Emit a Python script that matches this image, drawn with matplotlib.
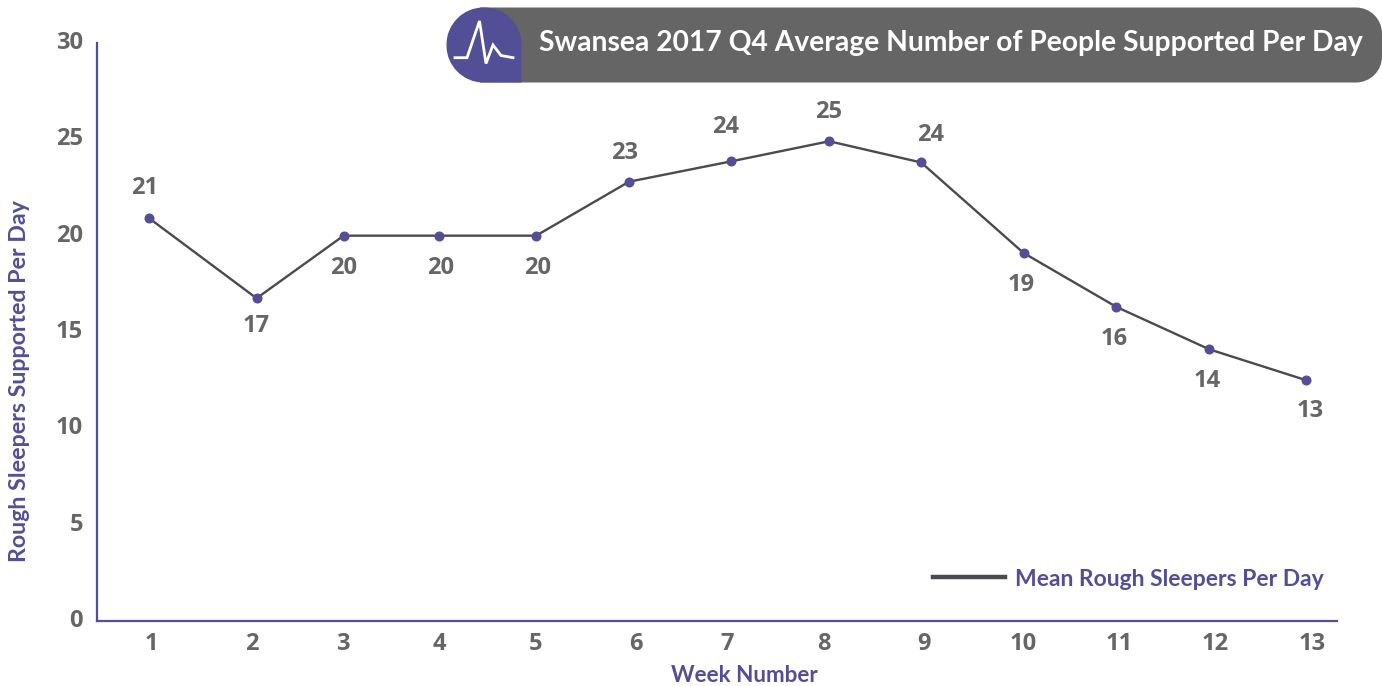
import matplotlib
matplotlib.use('Agg')
import matplotlib.pyplot as plt
from matplotlib.lines import Line2D
from matplotlib.patches import PathPatch
from matplotlib.path import Path
from matplotlib.transforms import ScaledTranslation

# the source chart has slightly uneven week spacing, so x is read in fractional weeks
week_x = [0.98, 2.09, 2.99, 3.98, 4.98, 5.94, 6.99, 8.01, 8.96, 10.02, 10.98, 11.94, 12.94]
mean_sleepers = [20.9, 16.75, 20.0, 20.0, 20.0, 22.8, 23.85, 24.9, 23.8, 19.1, 16.3, 14.1, 12.5]
point_labels = ['21', '17', '20', '20', '20', '23', '24', '25', '24', '19', '16', '14', '13']

week_ticks = [1.0, 2.04, 2.98, 3.98, 4.97, 6.01, 6.95, 7.95, 8.99, 10.02, 11.01, 12.0, 13.0]
week_labels = [str(i) for i in range(1, 14)]
y_ticks = [0, 5, 10, 15, 20, 25, 30]

# label offsets from each point, in pixels
label_dx = [-5, 0, 0, 1, 1, -4, -5, -1, 9, -2, -2, -2, 4]
label_dy = [30, -28, -32, -32, -32, 29, 34, 29, 27, -32, -32, -32, -31]

PURPLE = '#534f96'
GREY = '#666666'
DARK = '#4a4a4f'
FONT = 'Lato'
NUM_FONT = 'Open Sans'
NUM_SIZE = 17

W, H = 1382, 686
fig = plt.figure(figsize=(W / 100, H / 100), dpi=100)
ax = fig.add_axes([97 / W, 1 - 621 / H, (1337 - 97) / W, (621 - 43) / H])

ax.plot(week_x, mean_sleepers, color=DARK, lw=1.7, zorder=2)
ax.plot(week_x, mean_sleepers, ls='none', marker='o', ms=6.2, color=PURPLE, zorder=3)

for x, y, lab, dx, dy in zip(week_x, mean_sleepers, point_labels, label_dx, label_dy):
    ax.annotate(lab, (x, y), xytext=(dx * 0.72, dy * 0.72), textcoords='offset points',
                ha='center', va='center', fontsize=NUM_SIZE, fontweight='bold',
                color=GREY, family=NUM_FONT)

ax.set_xlim(0.44, 13.26)
ax.set_ylim(0, 30)
ax.set_xticks(week_ticks)
ax.set_xticklabels(week_labels, fontsize=NUM_SIZE, fontweight='bold', color=GREY, family=NUM_FONT)
ax.set_yticks(y_ticks)
ax.set_yticklabels(y_ticks, fontsize=NUM_SIZE, fontweight='bold', color=GREY, family=NUM_FONT)
ax.tick_params(axis='both', length=0)
ax.tick_params(axis='x', pad=8)
ax.tick_params(axis='y', pad=10)
shift = ScaledTranslation(0, 3 / 100, fig.dpi_scale_trans)
for t in ax.get_yticklabels():
    t.set_transform(t.get_transform() + shift)

for side in ['top', 'right']:
    ax.spines[side].set_visible(False)
for side in ['left', 'bottom']:
    ax.spines[side].set_color(PURPLE)
    ax.spines[side].set_linewidth(1.6)

fig.text(744 / W, 1 - 676 / H, 'Week Number', color=PURPLE, fontsize=16.2, fontweight='bold',
         family=FONT, ha='center', va='center')
fig.text(20 / W, 1 - 381 / H, 'Rough Sleepers Supported Per Day', color=PURPLE, fontsize=16.7,
         fontweight='bold', family=FONT, rotation=90, ha='center', va='center')

handle = Line2D([], [], color=DARK, lw=3.2)
ax.legend([handle], ['Mean Rough Sleepers Per Day'], loc='center right',
          bbox_to_anchor=((1324 - 97) / (1337 - 97), (621 - 579) / (621 - 43)), frameon=False,
          prop={'family': FONT, 'size': 16.5, 'weight': 'bold'}, labelcolor=PURPLE,
          handlelength=3.14, handletextpad=0.44, borderpad=0, borderaxespad=0)

# title banner, drawn on a pixel-sized overlay
ov = fig.add_axes([0, 0, 1, 1], zorder=5)
ov.set_xlim(0, W)
ov.set_ylim(H, 0)
ov.axis('off')

MV, L4, C4, CP = Path.MOVETO, Path.LINETO, Path.CURVE4, Path.CLOSEPOLY
k = 0.552
def rounded(x0, y0, x1, y1, rtl, rtr, rbr, rbl):
    # rectangle with its own radius on each corner
    verts = [(x0 + rtl, y0), (x1 - rtr, y0),
             (x1 - rtr + k * rtr, y0), (x1, y0 + rtr - k * rtr), (x1, y0 + rtr),
             (x1, y1 - rbr),
             (x1, y1 - rbr + k * rbr), (x1 - rbr + k * rbr, y1), (x1 - rbr, y1),
             (x0 + rbl, y1),
             (x0 + rbl - k * rbl, y1), (x0, y1 - rbl + k * rbl), (x0, y1 - rbl),
             (x0, y0 + rtl),
             (x0, y0 + rtl - k * rtl), (x0 + rtl - k * rtl, y0), (x0 + rtl, y0),
             (x0 + rtl, y0)]
    codes = [MV, L4, C4, C4, C4, L4, C4, C4, C4, L4, C4, C4, C4, L4, C4, C4, C4, CP]
    return Path(verts, codes)

ov.add_patch(PathPatch(rounded(480, 7.5, 1382, 82.5, 0, 26, 26, 0), fc='#656566', ec='none'))
ov.add_patch(PathPatch(rounded(446.5, 7.5, 521.5, 82.5, 37, 37, 0, 37), fc=PURPLE, ec='none'))
pulse_x = [455, 467, 479.5, 486, 493, 501, 513]
pulse_y = [57.7, 57.7, 21, 63.5, 45, 55.5, 57.7]
ov.plot(pulse_x, pulse_y, color='white', lw=2, solid_joinstyle='miter')
ov.text(539.5, 43, 'Swansea 2017 Q4 Average Number of People Supported Per Day', color='white',
        fontsize=20.3, fontweight='bold', family=FONT, ha='left', va='center')

fig.savefig('out.png', dpi=100)
